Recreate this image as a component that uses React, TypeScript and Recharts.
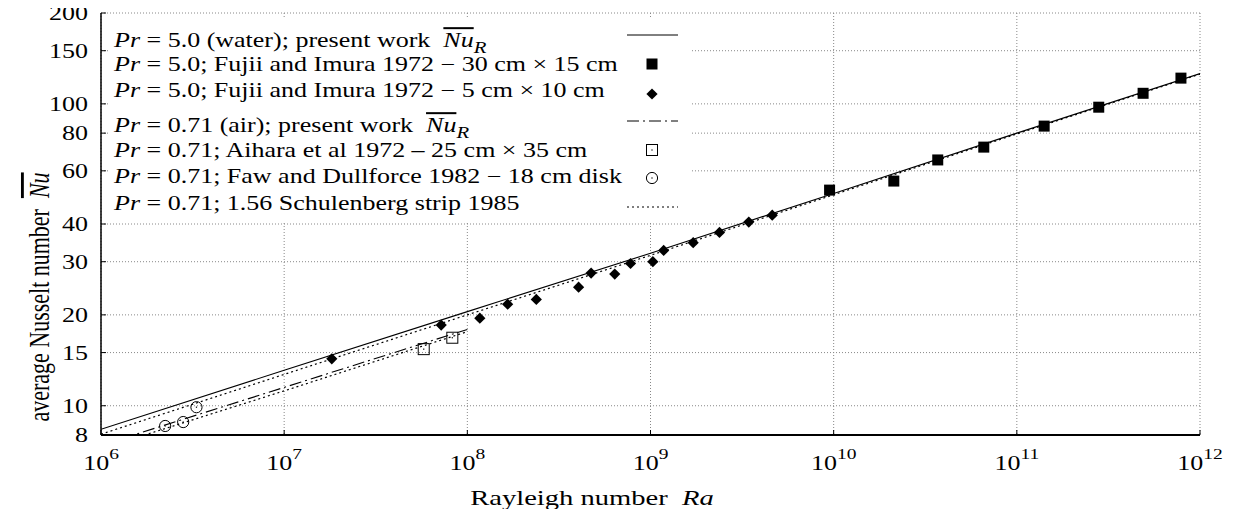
import React from 'react';
import { ComposedChart, Line, Scatter, XAxis, YAxis, CartesianGrid, Legend, Label } from 'recharts';

const FONT = '"Liberation Serif", "Times New Roman", serif';
const SX = 1.3;

// ---- axes ----
const xTicks = [1e6, 1e7, 1e8, 1e9, 1e10, 1e11, 1e12];
const xTickExponents = ['6', '7', '8', '9', '10', '11', '12'];
const yTicks = [8, 10, 15, 20, 30, 40, 60, 80, 100, 150, 200];

// ---- correlation lines ----
const waterRa = [1e6, 1e7, 1e8, 1e9, 1e10, 1e11, 1e12];
const waterPresentNu = [8.36, 13.1, 20.5, 32.0, 50.5, 80, 126];
const waterSchulenbergNu = [8.05, 12.7, 20.0, 31.5, 50.0, 79.5, 125.5];
const airRa = [1e6, 1e7, 1e8];
const airPresentNu = [7.4, 11.5, 17.9];
const airSchulenbergNu = [7.2, 11.2, 17.6];

// ---- experimental points ----
const fujiiLargeRa = [9.5e9, 2.13e10, 3.7e10, 6.6e10, 1.41e11, 2.8e11, 4.89e11, 7.87e11];
const fujiiLargeNu = [51.8, 55.5, 65.2, 71.9, 84.4, 97.5, 108.4, 121.7];
const fujiiSmallRa = [1.82e7, 7.2e7, 1.17e8, 1.66e8, 2.38e8, 4.05e8, 4.74e8, 6.38e8, 7.78e8, 1.03e9, 1.18e9, 1.71e9, 2.38e9, 3.44e9, 4.62e9];
const fujiiSmallNu = [14.3, 18.5, 19.5, 21.7, 22.5, 24.7, 27.5, 27.3, 29.6, 30.0, 32.7, 34.7, 37.5, 40.6, 42.8];
const aiharaRa = [5.78e7, 8.28e7];
const aiharaNu = [15.4, 16.8];
const fawRa = [2.24e6, 2.81e6, 3.32e6];
const fawNu = [8.57, 8.83, 9.89];

const zip = (ra: number[], nu: number[]) => ra.map((r, i) => ({ ra: r, nu: nu[i] }));

const waterPresent = zip(waterRa, waterPresentNu);
const waterSchulenberg = zip(waterRa, waterSchulenbergNu);
const airPresent = zip(airRa, airPresentNu);
const airSchulenberg = zip(airRa, airSchulenbergNu);
const fujiiLarge = zip(fujiiLargeRa, fujiiLargeNu);
const fujiiSmall = zip(fujiiSmallRa, fujiiSmallNu);
const aihara = zip(aiharaRa, aiharaNu);
const faw = zip(fawRa, fawNu);

// ---- marker shapes ----
const FilledSquare = (cx: number, cy: number, s = 11) => (
  <rect x={cx - s / 2} y={cy - s / 2} width={s} height={s} fill="#000" />
);
const Diamond = (cx: number, cy: number, s = 5.6) => (
  <polygon points={`${cx},${cy - s} ${cx + s},${cy} ${cx},${cy + s} ${cx - s},${cy}`} fill="#000" />
);
const OpenSquare = (cx: number, cy: number, s = 11) => (
  <g>
    <rect x={cx - s / 2} y={cy - s / 2} width={s} height={s} fill="none" stroke="#000" strokeWidth={1} />
    <rect x={cx - 0.6} y={cy - 0.6} width={1.2} height={1.2} fill="#000" />
  </g>
);
const OpenCircle = (cx: number, cy: number, r = 5.6) => (
  <g>
    <circle cx={cx} cy={cy} r={r} fill="none" stroke="#000" strokeWidth={1} />
    <rect x={cx - 0.6} y={cy - 0.6} width={1.2} height={1.2} fill="#000" />
  </g>
);

// ---- ticks ----
const BottomTick = (props: any) => {
  const { x, y, index } = props;
  return (
    <g>
      <line x1={x} y1={y} x2={x} y2={y - 5} stroke="#000" strokeWidth={1} />
      <text transform={`translate(${x},${y + 35}) scale(${SX},1)`} textAnchor="middle" fontFamily={FONT} fontSize={20} fill="#000">
        <tspan>10</tspan>
        <tspan dy={-11} fontSize={15}>{xTickExponents[index]}</tspan>
      </text>
    </g>
  );
};
const LeftTick = (props: any) => {
  const { x, y, payload } = props;
  return (
    <g>
      <line x1={x} y1={y} x2={x + 5} y2={y} stroke="#000" strokeWidth={1} />
      <text transform={`translate(${x - 13},${y}) scale(${SX},1)`} textAnchor="end" dy="0.35em" fontFamily={FONT} fontSize={20} fill="#000">
        {payload.value}
      </text>
    </g>
  );
};
const TopTick = (props: any) => {
  const { x, y } = props;
  return <line x1={x} y1={y} x2={x} y2={y + 5} stroke="#000" strokeWidth={1} />;
};
const RightTick = (props: any) => {
  const { x, y } = props;
  return <line x1={x} y1={y} x2={x - 5} y2={y} stroke="#000" strokeWidth={1} />;
};

// ---- legend ----
const legendTexts = [
  { pre: ' = 5.0 (water); present work  ', nu: true },
  { pre: ' = 5.0; Fujii and Imura 1972 − 30 cm × 15 cm', nu: false },
  { pre: ' = 5.0; Fujii and Imura 1972 − 5 cm × 10 cm', nu: false },
  { pre: ' = 0.71 (air); present work  ', nu: true },
  { pre: ' = 0.71; Aihara et al 1972 – 25 cm × 35 cm', nu: false },
  { pre: ' = 0.71; Faw and Dullforce 1982 − 18 cm disk', nu: false },
  { pre: ' = 0.71; 1.56 Schulenberg strip 1985', nu: false },
];
const legendBaselines = [30, 54, 80, 115, 140, 166.5, 193];
const legendSymbolY = [18, 47, 77, 104, 133, 161, 190];

const LegendBox = () => {
  const sx = 542;
  return (
    <svg width={582} height={205} style={{ display: 'block' }}>
      <rect x={0} y={0} width={582} height={205} fill="#fff" />
      <g transform={`translate(4,0) scale(${SX},1)`}>
        {legendTexts.map((t, i) => (
          <text key={i} x={0} y={legendBaselines[i]} fontFamily={FONT} fontSize={20} fill="#000" style={{ whiteSpace: 'pre' }}>
            <tspan fontStyle="italic">Pr</tspan>
            <tspan>{t.pre}</tspan>
            {t.nu && <tspan fontStyle="italic" style={{ textDecoration: 'overline' }}>Nu</tspan>}
            {t.nu && <tspan fontStyle="italic" fontSize={16} dy={6}>R</tspan>}
          </text>
        ))}
      </g>
      <line x1={517} x2={568} y1={legendSymbolY[0]} y2={legendSymbolY[0]} stroke="#000" strokeWidth={1} />
      {FilledSquare(sx, legendSymbolY[1])}
      {Diamond(sx, legendSymbolY[2])}
      <line x1={517} x2={568} y1={legendSymbolY[3]} y2={legendSymbolY[3]} stroke="#000" strokeWidth={1} strokeDasharray="12 4 2 4" />
      {OpenSquare(sx, legendSymbolY[4])}
      {OpenCircle(sx, legendSymbolY[5])}
      <line x1={517} x2={568} y1={legendSymbolY[6]} y2={legendSymbolY[6]} stroke="#000" strokeWidth={1.2} strokeDasharray="2 3" />
    </svg>
  );
};

export default function App() {
  return (
    <div style={{ width: 1237, height: 517, background: '#fff', margin: -8 }}>
      <ComposedChart width={1237} height={517} margin={{ top: 13, right: 37, bottom: 0, left: 0 }}>
        <CartesianGrid stroke="#888" strokeDasharray="1 2" strokeWidth={1} />
        <XAxis
          dataKey="ra"
          type="number"
          scale="log"
          domain={[1e6, 1e12]}
          ticks={xTicks}
          interval={0}
          allowDataOverflow
          height={82}
          tickSize={0}
          tickMargin={0}
          tickLine={false}
          tick={<BottomTick />}
          axisLine={{ stroke: '#000', strokeWidth: 2 }}
        >
          <Label
            content={() => (
              <text transform={`translate(592,505) scale(${SX},1)`} textAnchor="middle" fontFamily={FONT} fontSize={22} fill="#000" style={{ whiteSpace: 'pre' }}>
                <tspan>Rayleigh number  </tspan>
                <tspan fontStyle="italic">Ra</tspan>
              </text>
            )}
          />
        </XAxis>
        <XAxis
          xAxisId="top"
          orientation="top"
          dataKey="ra"
          type="number"
          scale="log"
          domain={[1e6, 1e12]}
          ticks={xTicks}
          interval={0}
          allowDataOverflow
          height={0}
          tickSize={0}
          tickMargin={0}
          tickLine={false}
          tick={<TopTick />}
          axisLine={{ stroke: '#000', strokeWidth: 1.5 }}
        />
        <YAxis
          dataKey="nu"
          type="number"
          scale="log"
          domain={[8, 200]}
          ticks={yTicks}
          interval={0}
          allowDataOverflow
          width={101}
          tickSize={0}
          tickMargin={0}
          tickLine={false}
          tick={<LeftTick />}
          axisLine={{ stroke: '#000', strokeWidth: 1.5 }}
        >
          <Label
            content={() => (
              <text transform={`translate(49,297) scale(${SX},1) rotate(-90)`} textAnchor="middle" fontFamily={FONT} fontSize={22} fill="#000" style={{ whiteSpace: 'pre' }}>
                <tspan>average Nusselt number  </tspan>
                <tspan fontStyle="italic" style={{ textDecoration: 'overline' }}>Nu</tspan>
              </text>
            )}
          />
        </YAxis>
        <YAxis
          yAxisId="right"
          orientation="right"
          dataKey="nu"
          type="number"
          scale="log"
          domain={[8, 200]}
          ticks={yTicks}
          interval={0}
          allowDataOverflow
          width={0}
          tickSize={0}
          tickMargin={0}
          tickLine={false}
          tick={<RightTick />}
          axisLine={{ stroke: '#000', strokeWidth: 2 }}
        />
        <Line data={waterPresent} dataKey="nu" stroke="#000" strokeWidth={1.1} dot={false} activeDot={false} isAnimationActive={false} legendType="none" />
        <Line data={waterSchulenberg} dataKey="nu" stroke="#000" strokeWidth={1.2} strokeDasharray="2 3" dot={false} activeDot={false} isAnimationActive={false} legendType="none" />
        <Line data={airPresent} dataKey="nu" stroke="#000" strokeWidth={1.1} strokeDasharray="12 4 2 4" dot={false} activeDot={false} isAnimationActive={false} legendType="none" />
        <Line data={airSchulenberg} dataKey="nu" stroke="#000" strokeWidth={1.2} strokeDasharray="2 3" dot={false} activeDot={false} isAnimationActive={false} legendType="none" />
        <Scatter data={fujiiLarge} isAnimationActive={false} legendType="none" shape={(p: any) => FilledSquare(p.cx, p.cy)} />
        <Scatter data={fujiiSmall} isAnimationActive={false} legendType="none" shape={(p: any) => Diamond(p.cx, p.cy)} />
        <Scatter data={aihara} isAnimationActive={false} legendType="none" shape={(p: any) => OpenSquare(p.cx, p.cy)} />
        <Scatter data={faw} isAnimationActive={false} legendType="none" shape={(p: any) => OpenCircle(p.cx, p.cy)} />
        <Legend
          layout="vertical"
          align="center"
          verticalAlign="middle"
          content={() => <LegendBox />}
          wrapperStyle={{ position: 'absolute', left: 110, top: 17, width: 582, height: 205 }}
        />
      </ComposedChart>
    </div>
  );
}
